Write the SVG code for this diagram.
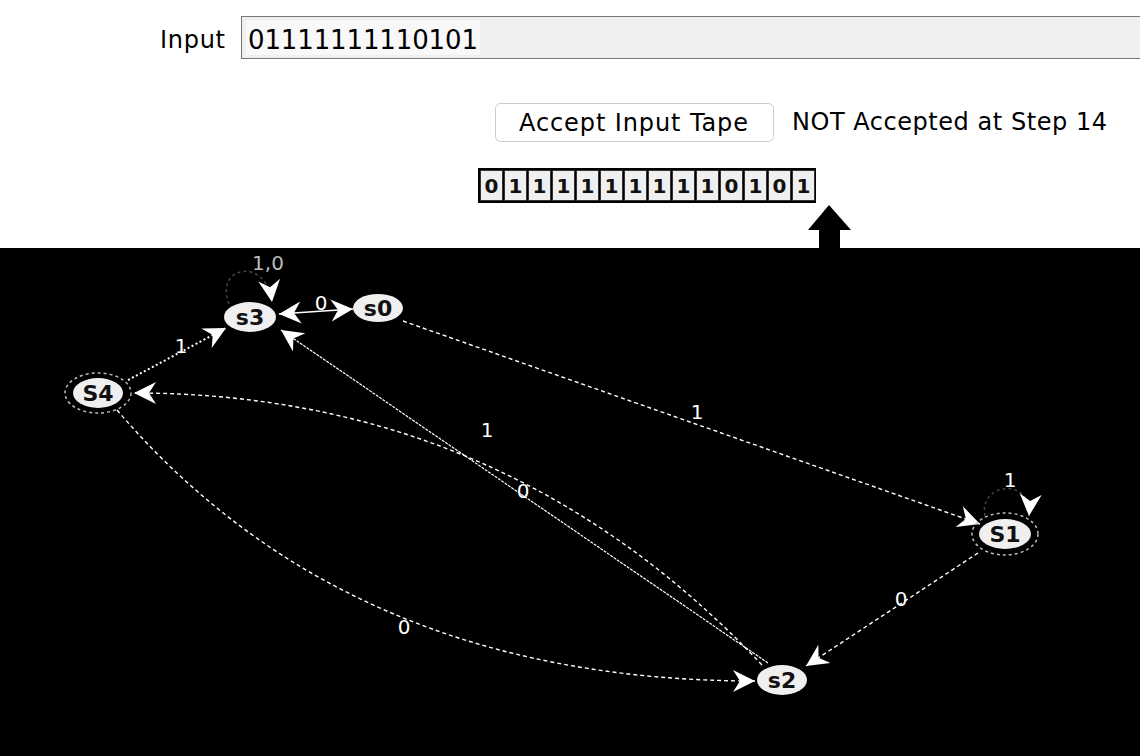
<svg xmlns="http://www.w3.org/2000/svg" width="1140" height="756" viewBox="0 0 1140 756">
<defs>
<style>
.ui{font-family:"DejaVu Sans","Liberation Sans",sans-serif;fill:#000}
.cell{fill:#efefef;stroke:#333;stroke-width:1}
.tape{font-family:"DejaVu Sans","Liberation Sans",sans-serif;font-weight:bold;font-size:20px;fill:#111;text-anchor:middle}
.node{fill:#efefef}
.nlabel{font-family:"DejaVu Sans","Liberation Sans",sans-serif;font-weight:bold;font-size:22px;fill:#111;text-anchor:middle}
.ring{fill:none;stroke:#bbb;stroke-width:1.5;stroke-dasharray:3,3}
.edge{fill:none;stroke:#fff;stroke-width:1.4}
.dash{stroke-dasharray:4,3}
.dot{stroke-dasharray:2,2.5;stroke-width:2}
.fine{stroke-dasharray:3,1;stroke-width:1.2}
.loop{fill:none;stroke:#444;stroke-width:1.5;stroke-dasharray:3,3}
.elabel{font-family:"DejaVu Sans","Liberation Sans",sans-serif;font-size:20px;fill:#fff;text-anchor:middle}
</style>
<marker id="arr" markerUnits="userSpaceOnUse" markerWidth="24" markerHeight="24" refX="22" refY="12" orient="auto">
<path d="M0,1 L22,12 L0,23 L7,12 Z" fill="#fff"/>
</marker>
<marker id="arrs" markerUnits="userSpaceOnUse" markerWidth="24" markerHeight="24" refX="0" refY="12" orient="auto">
<path d="M0,12 L22,1 L15,12 L22,23 Z" fill="#fff"/>
</marker>
</defs>
<rect x="0" y="0" width="1140" height="756" fill="#fff"/>
<g id="input-row">
<text class="ui" x="160" y="48" font-size="24" textLength="65">Input</text>
<rect x="241.5" y="16.5" width="910" height="42" fill="#efefef" stroke="#777" stroke-width="1"/>
<rect x="246" y="20" width="234" height="35" fill="#f8f8f8"/>
<text class="ui" x="248" y="49" font-size="26" textLength="230">01111111110101</text>
</g>
<g id="button">
<rect x="495.5" y="103.5" width="278" height="38" rx="5" fill="#fff" stroke="#ccc" stroke-width="1"/>
<text class="ui" x="519" y="131" font-size="24" textLength="229">Accept Input Tape</text>
</g>
<g id="status">
<text class="ui" x="792" y="130" font-size="24" textLength="315">NOT Accepted at Step 14</text>
</g>
<g id="tape">
<rect x="478" y="168" width="338" height="35" fill="#000"/>
<rect class="cell" x="480.5" y="170.5" width="22" height="30"/>
<rect class="cell" x="504.5" y="170.5" width="22" height="30"/>
<rect class="cell" x="528.5" y="170.5" width="22" height="30"/>
<rect class="cell" x="552.5" y="170.5" width="22" height="30"/>
<rect class="cell" x="576.5" y="170.5" width="22" height="30"/>
<rect class="cell" x="600.5" y="170.5" width="22" height="30"/>
<rect class="cell" x="624.5" y="170.5" width="22" height="30"/>
<rect class="cell" x="648.5" y="170.5" width="22" height="30"/>
<rect class="cell" x="672.5" y="170.5" width="22" height="30"/>
<rect class="cell" x="696.5" y="170.5" width="22" height="30"/>
<rect class="cell" x="720.5" y="170.5" width="22" height="30"/>
<rect class="cell" x="744.5" y="170.5" width="22" height="30"/>
<rect class="cell" x="768.5" y="170.5" width="22" height="30"/>
<rect class="cell" x="792.5" y="170.5" width="22" height="30"/>
<text class="tape" x="491.5" y="193">0</text>
<text class="tape" x="515.5" y="193">1</text>
<text class="tape" x="539.5" y="193">1</text>
<text class="tape" x="563.5" y="193">1</text>
<text class="tape" x="587.5" y="193">1</text>
<text class="tape" x="611.5" y="193">1</text>
<text class="tape" x="635.5" y="193">1</text>
<text class="tape" x="659.5" y="193">1</text>
<text class="tape" x="683.5" y="193">1</text>
<text class="tape" x="707.5" y="193">1</text>
<text class="tape" x="731.5" y="193">0</text>
<text class="tape" x="755.5" y="193">1</text>
<text class="tape" x="779.5" y="193">0</text>
<text class="tape" x="803.5" y="193">1</text>
</g>
<g id="head">
<polygon points="829,205 851,230 840,230 840,249 819,249 819,230 808,230" fill="#000"/>
</g>
<rect x="0" y="248" width="1140" height="508" fill="#000"/>
<g id="connectors">
<path class="loop" d="M229,304 C214,266 266,256 272,302" marker-end="url(#arr)"/>
<text class="elabel" x="268" y="270" style="fill:#bbb" font-size="18">1,0</text>
<path class="edge" d="M279,314 L353,309" marker-start="url(#arrs)" marker-end="url(#arr)"/>
<text class="elabel" x="321" y="310">0</text>
<path class="edge dot" d="M128,380 L226,328" marker-end="url(#arr)"/>
<text class="elabel" x="181" y="353">1</text>
<path class="edge dash" d="M403,321 L980,524" marker-end="url(#arr)"/>
<text class="elabel" x="697" y="419">1</text>
<path class="loop" d="M985,516 C978,483 1032,476 1029,516" marker-end="url(#arr)"/>
<text class="elabel" x="1010" y="487">1</text>
<path class="edge dash" d="M978,553 L806,666" marker-end="url(#arr)"/>
<text class="elabel" x="901" y="606">0</text>
<path class="edge fine" d="M768,663 L281,330" marker-end="url(#arr)"/>
<text class="elabel" x="523" y="498">0</text>
<path class="edge dash" d="M762,665 Q506,393 134,393" marker-end="url(#arr)"/>
<text class="elabel" x="487" y="437">1</text>
<path class="edge dash" d="M117,410 Q348,681 755,681" marker-end="url(#arr)"/>
<text class="elabel" x="404" y="634">0</text>
</g>
<g id="s3">
<ellipse class="node" cx="250" cy="317" rx="26" ry="15"/>
<text class="nlabel" x="250" y="325">s3</text>
</g>
<g id="s0">
<ellipse class="node" cx="378" cy="308" rx="25" ry="14"/>
<text class="nlabel" x="378" y="316">s0</text>
</g>
<g id="S4">
<ellipse class="ring" cx="98" cy="393" rx="33" ry="20"/>
<ellipse class="node" cx="98" cy="393" rx="25" ry="15"/>
<text class="nlabel" x="98" y="401">S4</text>
</g>
<g id="S1">
<ellipse class="ring" cx="1005" cy="534" rx="33" ry="21"/>
<ellipse class="node" cx="1005" cy="534" rx="26" ry="15"/>
<text class="nlabel" x="1005" y="542">S1</text>
</g>
<g id="s2">
<ellipse class="node" cx="782" cy="680" rx="25" ry="15"/>
<text class="nlabel" x="782" y="688">s2</text>
</g>
</svg>
